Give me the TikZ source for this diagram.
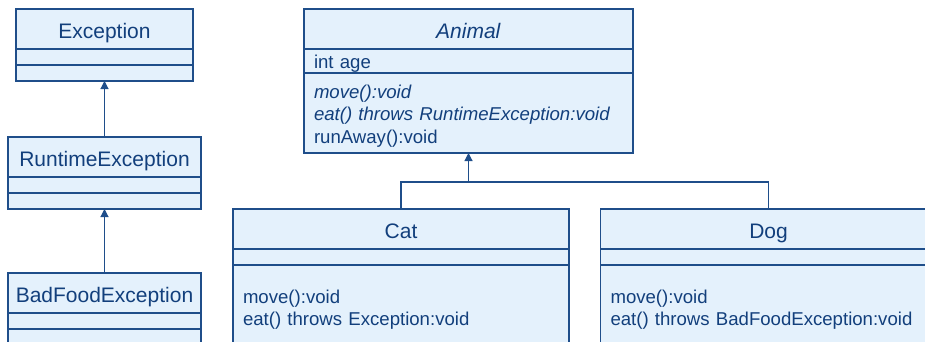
\documentclass[tikz,border=0pt]{standalone}
\usepackage{fontspec}
\setmainfont{Liberation Sans}
\usetikzlibrary{positioning,arrows.meta}
\definecolor{umlfill}{HTML}{E4F1FC}
\definecolor{umlline}{HTML}{1F4E8A}
\definecolor{umltext}{HTML}{123F7C}
\newcommand{\namefont}{\fontsize{21}{25}\selectfont}
\newcommand{\memberfont}{\fontsize{18.6}{22.5}\selectfont}
\newcommand{\mstrut}{\rule{0pt}{19pt}}

\begin{document}
\begin{tikzpicture}[x=1pt, y=-1pt,
    cname/.style={draw=umlline, fill=umlfill, text=umltext, rectangle, line width=1.1pt,
                  outer sep=0pt, inner sep=0pt, minimum height=40pt,
                  text height=19pt, text depth=0pt, font=\namefont},
    cpart/.style={draw=umlline, fill=umlfill, text=umltext, rectangle, line width=1.1pt,
                  outer sep=0pt, inner xsep=10pt, inner ysep=0pt,
                  align=left, font=\memberfont},
    link/.style={draw=umlline, line width=1.1pt},
    gen/.style={link, -{Triangle[width=8pt,length=8pt]}},
    node distance=0pt]
    \clip (0,0) rectangle (925,341);
    % exception hierarchy
    \node[cname, minimum width=177pt] (exc) at (104.5,29) {Exception};
    \node[cpart, text width=157pt, minimum height=16pt, below=of exc]   (exc-a) {};
    \node[cpart, text width=157pt, minimum height=16pt, below=of exc-a] (exc-m) {};
    \node[cname, minimum width=193pt] (rte) at (104.5,157) {RuntimeException};
    \node[cpart, text width=173pt, minimum height=16pt, below=of rte]   (rte-a) {};
    \node[cpart, text width=173pt, minimum height=16pt, below=of rte-a] (rte-m) {};
    \node[cname, minimum width=193pt] (bfe) at (104.5,293) {BadFoodException};
    \node[cpart, text width=173pt, minimum height=16pt, below=of bfe]   (bfe-a) {};
    \node[cpart, text width=173pt, minimum height=16pt, below=of bfe-a] (bfe-m) {};
    % animals
    \node[cname, minimum width=329pt] (ani) at (468.5,29) {\textit{Animal}};
    \node[cpart, text width=309pt, minimum height=24pt, below=of ani]   (ani-a) {\mstrut int age};
    \node[cpart, text width=309pt, minimum height=80pt, below=of ani-a] (ani-m)
        {\mstrut\textit{move():void}\\ \textit{eat() throws RuntimeException:void}\\ runAway():void};
    \node[cname, minimum width=336pt] (cat) at (401,229) {Cat};
    \node[cpart, text width=316pt, minimum height=16pt, below=of cat]   (cat-a) {};
    \node[cpart, text width=316pt, minimum height=84pt, below=of cat-a] (cat-m)
        {\mstrut move():void\\ eat() throws Exception:void};
    \node[cname, minimum width=336pt] (dog) at (768.5,229) {Dog};
    \node[cpart, text width=316pt, minimum height=16pt, below=of dog]   (dog-a) {};
    \node[cpart, text width=316pt, minimum height=84pt, below=of dog-a] (dog-m)
        {\mstrut move():void\\ eat() throws BadFoodException:void};
    % generalisations
    \draw[gen] (rte) -- (exc-m);
    \draw[gen] (bfe) -- (rte-m);
    \coordinate (join) at (468.5,182);
    \draw[gen] (cat.north) |- (join) -- (ani-m.south);
    \draw[link] (dog.north) |- (join);
\end{tikzpicture}
\end{document}
